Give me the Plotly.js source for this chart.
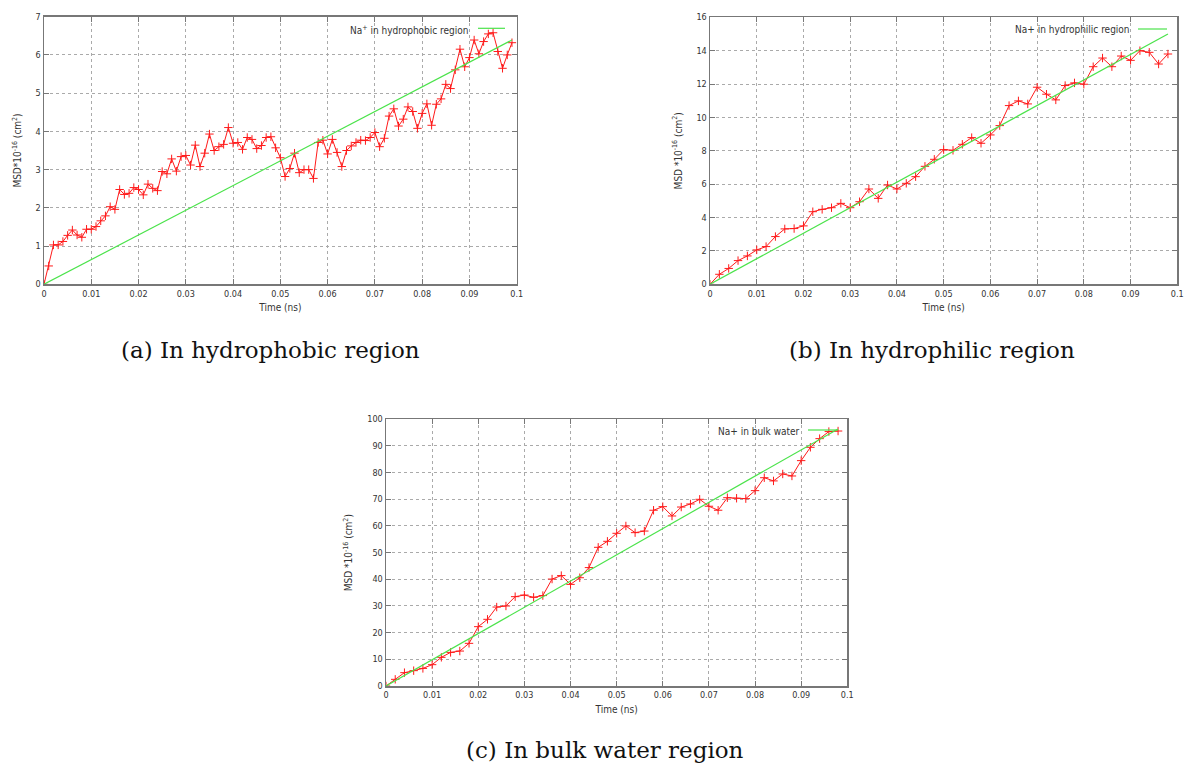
<!DOCTYPE html>
<html>
<head>
<meta charset="utf-8">
<script src="https://cdn.plot.ly/plotly-3.0.1.min.js"></script>
<style>
html,body{margin:0;padding:0;background:#fff;}
#chart{width:1185px;height:764px;}
</style>
</head>
<body>
<div id="chart"></div>
<script>
// ---- Data ----
const timeA = [0,0.001,0.002,0.003,0.004,0.005,0.006,0.007,0.008,0.009,
  0.010,0.011,0.012,0.013,0.014,0.015,0.016,0.017,0.018,0.019,
  0.020,0.021,0.022,0.023,0.024,0.025,0.026,0.027,0.028,0.029,
  0.030,0.031,0.032,0.033,0.034,0.035,0.036,0.037,0.038,0.039,
  0.040,0.041,0.042,0.043,0.044,0.045,0.046,0.047,0.048,0.049,
  0.050,0.051,0.052,0.053,0.054,0.055,0.056,0.057,0.058,0.059,
  0.060,0.061,0.062,0.063,0.064,0.065,0.066,0.067,0.068,0.069,
  0.070,0.071,0.072,0.073,0.074,0.075,0.076,0.077,0.078,0.079,
  0.080,0.081,0.082,0.083,0.084,0.085,0.086,0.087,0.088,0.089,
  0.090,0.091,0.092,0.093,0.094,0.095,0.096,0.097,0.098,0.099];
const msdA = [0,0.48,1.03,1.03,1.12,1.28,1.42,1.29,1.23,1.44,
  1.44,1.51,1.66,1.79,2.03,1.96,2.48,2.35,2.38,2.53,
  2.48,2.34,2.62,2.51,2.45,2.95,2.89,3.28,2.96,3.34,
  3.37,3.12,3.64,3.08,3.43,3.93,3.50,3.60,3.66,4.10,
  3.69,3.71,3.53,3.84,3.79,3.55,3.63,3.84,3.86,3.57,
  3.31,2.82,3.03,3.43,2.92,3.00,3.00,2.77,3.71,3.77,
  3.41,3.79,3.45,3.08,3.50,3.62,3.71,3.77,3.76,3.84,
  3.97,3.60,3.82,4.40,4.59,4.14,4.32,4.64,4.52,4.08,
  4.47,4.72,4.16,4.71,4.85,5.23,5.12,5.61,6.15,5.69,
  5.93,6.39,6.03,6.35,6.55,6.58,6.09,5.65,6.00,6.32];
const fitTimeA = [0, 0.099];
const fitA = [0, 6.39];

const timeBC = [0,0.002,0.004,0.006,0.008,0.010,0.012,0.014,0.016,0.018,
  0.020,0.022,0.024,0.026,0.028,0.030,0.032,0.034,0.036,0.038,
  0.040,0.042,0.044,0.046,0.048,0.050,0.052,0.054,0.056,0.058,
  0.060,0.062,0.064,0.066,0.068,0.070,0.072,0.074,0.076,0.078,
  0.080,0.082,0.084,0.086,0.088,0.090,0.092,0.094,0.096,0.098];
const msdB = [0,0.6,0.95,1.42,1.70,2.06,2.26,2.86,3.32,3.34,
  3.50,4.35,4.49,4.59,4.85,4.59,4.95,5.71,5.15,5.95,
  5.71,6.05,6.45,7.07,7.49,8.07,8.03,8.39,8.79,8.45,
  8.95,9.51,10.71,10.99,10.81,11.81,11.39,11.05,11.91,12.07,
  11.99,13.04,13.56,13.04,13.68,13.42,14.00,13.90,13.20,13.80];
const fitTimeB = [0, 0.098];
const fitB = [0, 15.0];

const msdC = [0,2.5,5.0,5.75,6.6,8.0,10.75,12.6,13.1,16.0,
  22.25,25.0,29.6,30.0,33.5,34.1,33.25,33.9,40.1,41.4,
  38.1,40.6,44.4,52.0,54.25,57.25,60.0,57.5,58.1,65.9,
  67.25,63.75,67.1,68.25,70.0,67.4,65.9,70.6,70.4,70.25,
  73.25,78.1,76.9,79.5,78.75,84.5,89.5,92.75,95.4,95.6];
const fitTimeC = [0, 0.098];
const fitC = [0, 96.4];

const legendA = 'Na<sup>+</sup> in hydrophobic region';
const legendB = 'Na+ in hydrophilic region';
const legendC = 'Na+ in bulk water';
const captionA = '(a) In hydrophobic region';
const captionB = '(b) In hydrophilic region';
const captionC = '(c) In bulk water region';
const xTitle = 'Time (ns)';
const yTitleA = 'MSD*10<sup>-16</sup> (cm<sup>2</sup>)';
const yTitleBC = 'MSD *10<sup>-16</sup> (cm<sup>2</sup>)';

// ---- Styles ----
const RED = '#ff1a1a';
const GREEN = '#4be34b';
const cond = 'DejaVu Sans Condensed, Liberation Sans Narrow, DejaVu Sans';
const tickFont = {family: cond, size: 9, color: '#333'};
const labelFont = {family: cond, size: 10, color: '#333'};
const legFont = {family: cond, size: 10, color: '#333'};
const capFont = {family: 'DejaVu Serif, Liberation Serif, serif', size: 23, color: '#111'};

function dataTrace(x, y, xa, ya) {
  return {x: x, y: y, xaxis: xa, yaxis: ya, type: 'scatter', mode: 'lines+markers',
    line: {color: RED, width: 1},
    marker: {symbol: 'cross-thin', size: 6, color: RED, line: {color: RED, width: 1}},
    showlegend: false, hoverinfo: 'skip'};
}
function fitTrace(x, y, xa, ya) {
  return {x: x, y: y, xaxis: xa, yaxis: ya, type: 'scatter', mode: 'lines',
    line: {color: GREEN, width: 1.2}, showlegend: false, hoverinfo: 'skip'};
}

const traces = [
  dataTrace(timeA, msdA, 'x', 'y'),
  fitTrace(fitTimeA, fitA, 'x', 'y'),
  dataTrace(timeBC, msdB, 'x2', 'y2'),
  fitTrace(fitTimeB, fitB, 'x2', 'y2'),
  dataTrace(timeBC, msdC, 'x3', 'y3'),
  fitTrace(fitTimeC, fitC, 'x3', 'y3')
];

function xAxis(dom, anchor) {
  return {domain: dom, anchor: anchor, range: [0, 0.1], dtick: 0.01, tick0: 0,
    showline: true, linecolor: '#777', linewidth: 1.5, mirror: 'ticks',
    ticks: 'inside', ticklen: 5, tickcolor: '#777', tickwidth: 1,
    showgrid: true, gridcolor: '#aaa', griddash: 'dot', gridwidth: 1,
    zeroline: false, tickfont: tickFont,
    title: {text: xTitle, font: labelFont, standoff: 6}};
}
function yAxis(dom, anchor, max, dt, title) {
  return {domain: dom, anchor: anchor, range: [0, max], dtick: dt, tick0: 0,
    showline: true, linecolor: '#777', linewidth: 1.5, mirror: 'ticks',
    ticks: 'inside', ticklen: 5, tickcolor: '#777', tickwidth: 1,
    showgrid: true, gridcolor: '#aaa', griddash: 'dot', gridwidth: 1,
    zeroline: false, tickfont: tickFont,
    title: {text: title, font: labelFont, standoff: 12}};
}

const W = 1185, H = 764;
const px = v => v / W;
const py = v => (H - v) / H;

const layout = {
  width: W, height: H, margin: {l: 0, r: 0, t: 0, b: 0},
  paper_bgcolor: '#fff', plot_bgcolor: '#fff', showlegend: false,
  xaxis: xAxis([px(44), px(516.7)], 'y'),
  yaxis: yAxis([py(284.3), py(16.7)], 'x', 7, 1, yTitleA),
  xaxis2: xAxis([px(710), px(1177.3)], 'y2'),
  yaxis2: yAxis([py(284.3), py(17.3)], 'x2', 16, 2, yTitleBC),
  xaxis3: xAxis([px(386), px(847.3)], 'y3'),
  yaxis3: yAxis([py(686), py(419.3)], 'x3', 100, 10, yTitleBC),
  annotations: [
    {text: legendA, x: px(471), y: py(30), xref: 'paper', yref: 'paper', xanchor: 'right', yanchor: 'middle', showarrow: false, font: legFont},
    {text: legendB, x: px(1132), y: py(29), xref: 'paper', yref: 'paper', xanchor: 'right', yanchor: 'middle', showarrow: false, font: legFont},
    {text: legendC, x: px(802), y: py(431), xref: 'paper', yref: 'paper', xanchor: 'right', yanchor: 'middle', showarrow: false, font: legFont},
    {text: captionA, x: px(270), y: py(350), xref: 'paper', yref: 'paper', xanchor: 'center', yanchor: 'middle', showarrow: false, font: capFont},
    {text: captionB, x: px(931.5), y: py(350), xref: 'paper', yref: 'paper', xanchor: 'center', yanchor: 'middle', showarrow: false, font: capFont},
    {text: captionC, x: px(605), y: py(750), xref: 'paper', yref: 'paper', xanchor: 'center', yanchor: 'middle', showarrow: false, font: capFont}
  ],
  shapes: [
    {type: 'line', xref: 'paper', yref: 'paper', x0: px(478), x1: px(505), y0: py(28.3), y1: py(28.3), line: {color: GREEN, width: 1.2}},
    {type: 'line', xref: 'paper', yref: 'paper', x0: px(1138), x1: px(1167), y0: py(29), y1: py(29), line: {color: GREEN, width: 1.2}},
    {type: 'line', xref: 'paper', yref: 'paper', x0: px(808), x1: px(838), y0: py(430), y1: py(430), line: {color: GREEN, width: 1.2}}
  ]
};

Plotly.newPlot('chart', traces, layout, {staticPlot: true, displayModeBar: false});
</script>
</body>
</html>
